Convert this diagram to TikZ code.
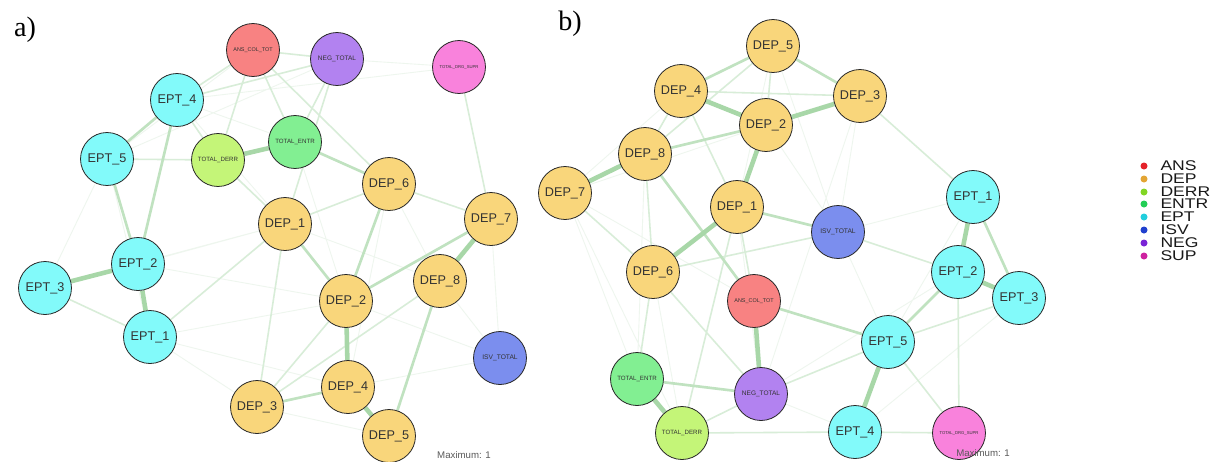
\documentclass[tikz,border=0pt]{standalone}
\usepackage{fontspec}
\setmainfont{Liberation Sans}
\newfontfamily\panelfont{Liberation Serif}
\newfontfamily\legendfont[FakeStretch=1.25]{Liberation Sans}
\usetikzlibrary{positioning}
\pgfdeclarelayer{bg}
\pgfsetlayers{bg,main}
% node fills
\definecolor{cANS}{HTML}{F88282}
\definecolor{cDEP}{HTML}{F9D67B}
\definecolor{cDERR}{HTML}{C4F578}
\definecolor{cENTR}{HTML}{82EF92}
\definecolor{cEPT}{HTML}{82FAFA}
\definecolor{cISV}{HTML}{7B8EEE}
\definecolor{cNEG}{HTML}{B282F0}
\definecolor{cSUP}{HTML}{F982DC}
% legend dots
\definecolor{lANS}{HTML}{E4222A}
\definecolor{lDEP}{HTML}{E3A534}
\definecolor{lDERR}{HTML}{82D624}
\definecolor{lENTR}{HTML}{22CE55}
\definecolor{lEPT}{HTML}{22CEDD}
\definecolor{lISV}{HTML}{2040CE}
\definecolor{lNEG}{HTML}{7A24D6}
\definecolor{lSUP}{HTML}{CE22A0}
% edges
\definecolor{gA}{HTML}{EEF6EE}
\definecolor{gB}{HTML}{D8EDD8}
\definecolor{gC}{HTML}{C0E2C0}
\definecolor{gD}{HTML}{A8D7A8}
\tikzset{
  nd/.style={circle, draw=black!85, line width=0.45pt, minimum size=1.06cm,
    inner sep=0pt, text=black!80, font=\fontsize{7.2}{8}\selectfont},
  dep/.style={nd, fill=cDEP},
  ept/.style={nd, fill=cEPT},
  ans/.style={nd, fill=cANS, font=\fontsize{3.1}{4}\selectfont},
  derr/.style={nd, fill=cDERR, font=\fontsize{3.5}{4}\selectfont},
  entr/.style={nd, fill=cENTR, font=\fontsize{3.5}{4}\selectfont},
  isv/.style={nd, fill=cISV, font=\fontsize{3.8}{4}\selectfont},
  neg/.style={nd, fill=cNEG, font=\fontsize{3.7}{4}\selectfont},
  sup/.style={nd, fill=cSUP, font=\fontsize{2.4}{3}\selectfont},
  e1/.style={draw=gA, line width=0.5pt},
  e2/.style={draw=gB, line width=0.9pt},
  e3/.style={draw=gC, line width=1.5pt},
  e4/.style={draw=gD, line width=2.6pt},
  lgdot/.style={circle, inner sep=0pt, minimum size=0.14cm},
  lgtxt/.style={inner sep=0pt, font=\legendfont\fontsize{8}{8}\selectfont, text=black!90},
  maxlbl/.style={font=\fontsize{5.5}{6}\selectfont, text=black!65},
  panel/.style={font=\panelfont\fontsize{16}{18}\selectfont}
}
\begin{document}
\begin{tikzpicture}[x=0.02cm,y=-0.02cm]
\useasboundingbox (0,0) rectangle (1218,461);

% panel a
\node[panel] (la) at (25,30) {a)};
\node[ans] (aANS) at (253,50) {ANS\_COL\_TOT};
\node[neg] (aNEG) at (337,59) {NEG\_TOTAL};
\node[sup] (aSUP) at (459,67) {TOTAL\_DRG\_SUPR};
\node[ept] (aEPT4) at (177,100) {EPT\_4};
\node[ept] (aEPT5) at (107,159) {EPT\_5};
\node[derr] (aDERR) at (218,160) {TOTAL\_DERR};
\node[entr] (aENTR) at (295,142) {TOTAL\_ENTR};
\node[dep] (aDEP6) at (389,184) {DEP\_6};
\node[dep] (aDEP7) at (491,219) {DEP\_7};
\node[dep] (aDEP1) at (285,224) {DEP\_1};
\node[ept] (aEPT2) at (138,264) {EPT\_2};
\node[ept] (aEPT3) at (45,288) {EPT\_3};
\node[dep] (aDEP8) at (440,281) {DEP\_8};
\node[dep] (aDEP2) at (346,301) {DEP\_2};
\node[ept] (aEPT1) at (150,337) {EPT\_1};
\node[isv] (aISV) at (500,358) {ISV\_TOTAL};
\node[dep] (aDEP4) at (348,387) {DEP\_4};
\node[dep] (aDEP3) at (257,407) {DEP\_3};
\node[dep] (aDEP5) at (389,436) {DEP\_5};
\node[maxlbl] (amax) at (464,455) {Maximum: 1};

% panel b
\node[panel] (lb) at (570,24) {b)};
\node[dep] (bDEP5) at (773,46) {DEP\_5};
\node[dep] (bDEP4) at (681,91) {DEP\_4};
\node[dep] (bDEP3) at (860,96) {DEP\_3};
\node[dep] (bDEP2) at (766,125) {DEP\_2};
\node[dep] (bDEP8) at (645,154) {DEP\_8};
\node[dep] (bDEP7) at (565,193) {DEP\_7};
\node[ept] (bEPT1) at (973,197) {EPT\_1};
\node[dep] (bDEP1) at (737,207) {DEP\_1};
\node[isv] (bISV) at (838,232) {ISV\_TOTAL};
\node[dep] (bDEP6) at (653,272) {DEP\_6};
\node[ept] (bEPT2) at (958,272) {EPT\_2};
\node[ept] (bEPT3) at (1019,298) {EPT\_3};
\node[ans] (bANS) at (754,301) {ANS\_COL\_TOT};
\node[ept] (bEPT5) at (888,342) {EPT\_5};
\node[entr] (bENTR) at (637,379) {TOTAL\_ENTR};
\node[neg] (bNEG) at (761,394) {NEG\_TOTAL};
\node[derr] (bDERR) at (682,433) {TOTAL\_DERR};
\node[ept] (bEPT4) at (855,432) {EPT\_4};
\node[sup] (bSUP) at (959,433) {TOTAL\_DRG\_SUPR};
\node[maxlbl] (bmax) at (983,453) {Maximum: 1};

% legend
\node[lgdot, fill=lANS] (dANS) at (1144,166) {};
\node[lgtxt, right=7pt of dANS] (tANS) {ANS};
\node[lgdot, fill=lDEP] (dDEP) at (1144,179) {};
\node[lgtxt, right=7pt of dDEP] (tDEP) {DEP};
\node[lgdot, fill=lDERR] (dDERR) at (1144,192) {};
\node[lgtxt, right=7pt of dDERR] (tDERR) {DERR};
\node[lgdot, fill=lENTR] (dENTR) at (1144,204) {};
\node[lgtxt, right=7pt of dENTR] (tENTR) {ENTR};
\node[lgdot, fill=lEPT] (dEPT) at (1144,217) {};
\node[lgtxt, right=7pt of dEPT] (tEPT) {EPT};
\node[lgdot, fill=lISV] (dISV) at (1144,230) {};
\node[lgtxt, right=7pt of dISV] (tISV) {ISV};
\node[lgdot, fill=lNEG] (dNEG) at (1144,243) {};
\node[lgtxt, right=7pt of dNEG] (tNEG) {NEG};
\node[lgdot, fill=lSUP] (dSUP) at (1144,256) {};
\node[lgtxt, right=7pt of dSUP] (tSUP) {SUP};

\begin{pgfonlayer}{bg}
\fill[white] (0,0) rectangle (1218,461);
% panel a edges
\draw[e1] (aEPT1) -- (aDEP3) (aISV) -- (aDEP2) (aEPT2) -- (aDEP1) (aEPT5) -- (aEPT3)
  (aEPT5) -- (aEPT1) (aEPT2) -- (aDEP2) (aEPT1) -- (aDEP2) (aDEP1) -- (aDEP8)
  (aDEP6) -- (aDEP4) (aISV) -- (aDEP8) (aDEP7) -- (aISV) (aEPT4) -- (aDEP1)
  (aNEG) -- (aSUP) (aDEP3) -- (aDEP5) (aENTR) -- (aDEP2) (aEPT5) -- (aANS)
  (aEPT5) -- (aNEG) (aEPT4) -- (aSUP) (aDEP4) -- (aISV) (aDEP6) -- (aDEP8)
  (aEPT4) -- (aENTR) (aEPT3) -- (aDEP1) (aEPT1) -- (aDEP4);
\draw[e2] (aEPT3) -- (aEPT1) (aEPT4) -- (aANS) (aEPT4) -- (aDERR) (aEPT5) -- (aDERR)
  (aANS) -- (aNEG) (aANS) -- (aENTR) (aNEG) -- (aDEP1) (aNEG) -- (aENTR)
  (aDERR) -- (aDEP1) (aDEP6) -- (aDEP1) (aDEP6) -- (aDEP7) (aEPT1) -- (aDEP1)
  (aDEP2) -- (aDEP3) (aDEP8) -- (aDEP3) (aSUP) -- (aDEP7) (aANS) -- (aDEP6)
  (aDERR) -- (aANS) (aEPT4) -- (aNEG) (aDEP1) -- (aDEP3);
\draw[e3] (aEPT4) -- (aEPT5) (aEPT5) -- (aEPT2) (aENTR) -- (aDEP6) (aDEP6) -- (aDEP2)
  (aDEP4) -- (aDEP3) (aEPT4) -- (aEPT2) (aDEP1) -- (aDEP2) (aDEP7) -- (aDEP2)
  (aDEP8) -- (aDEP5);
\draw[e4] (aEPT3) -- (aEPT2) (aEPT2) -- (aEPT1) (aDERR) -- (aENTR) (aDEP7) -- (aDEP8)
  (aDEP2) -- (aDEP4) (aDEP4) -- (aDEP5);
% panel b edges
\draw[e1] (bDEP7) -- (bENTR) (bDEP5) -- (bISV) (bISV) -- (bEPT5) (bISV) -- (bEPT1)
  (bDEP3) -- (bNEG) (bEPT3) -- (bEPT4) (bNEG) -- (bEPT2) (bDEP2) -- (bISV)
  (bDEP7) -- (bDEP4) (bDEP2) -- (bDEP7) (bDEP7) -- (bANS) (bDEP5) -- (bDEP1)
  (bDEP8) -- (bENTR) (bNEG) -- (bEPT4) (bDEP3) -- (bISV) (bDEP7) -- (bDERR)
  (bEPT1) -- (bEPT5) (bDEP1) -- (bNEG) (bDEP6) -- (bDERR);
\draw[e2] (bDEP4) -- (bDEP3) (bDEP4) -- (bDEP8) (bDEP4) -- (bDEP1) (bDEP5) -- (bDEP2)
  (bDEP5) -- (bDEP8) (bDEP7) -- (bDEP6) (bDEP6) -- (bNEG) (bDEP6) -- (bENTR)
  (bDEP6) -- (bISV) (bDEP3) -- (bEPT1) (bISV) -- (bEPT2) (bEPT3) -- (bEPT5)
  (bEPT5) -- (bNEG) (bEPT4) -- (bSUP) (bEPT4) -- (bDERR) (bDERR) -- (bNEG)
  (bDERR) -- (bDEP1) (bDEP1) -- (bANS) (bEPT2) -- (bSUP) (bEPT5) -- (bSUP)
  (bDEP8) -- (bDEP6);
\draw[e3] (bDEP5) -- (bDEP4) (bDEP5) -- (bDEP3) (bDEP2) -- (bDEP8) (bANS) -- (bEPT5)
  (bDEP1) -- (bISV) (bEPT1) -- (bEPT3) (bEPT2) -- (bEPT5) (bENTR) -- (bNEG)
  (bDEP8) -- (bANS);
\draw[e4] (bDEP4) -- (bDEP2) (bDEP2) -- (bDEP3) (bDEP2) -- (bDEP1) (bDEP8) -- (bDEP7)
  (bDEP1) -- (bDEP6) (bANS) -- (bNEG) (bEPT1) -- (bEPT2) (bEPT2) -- (bEPT3)
  (bEPT5) -- (bEPT4) (bENTR) -- (bDERR);
\end{pgfonlayer}
\end{tikzpicture}
\end{document}
